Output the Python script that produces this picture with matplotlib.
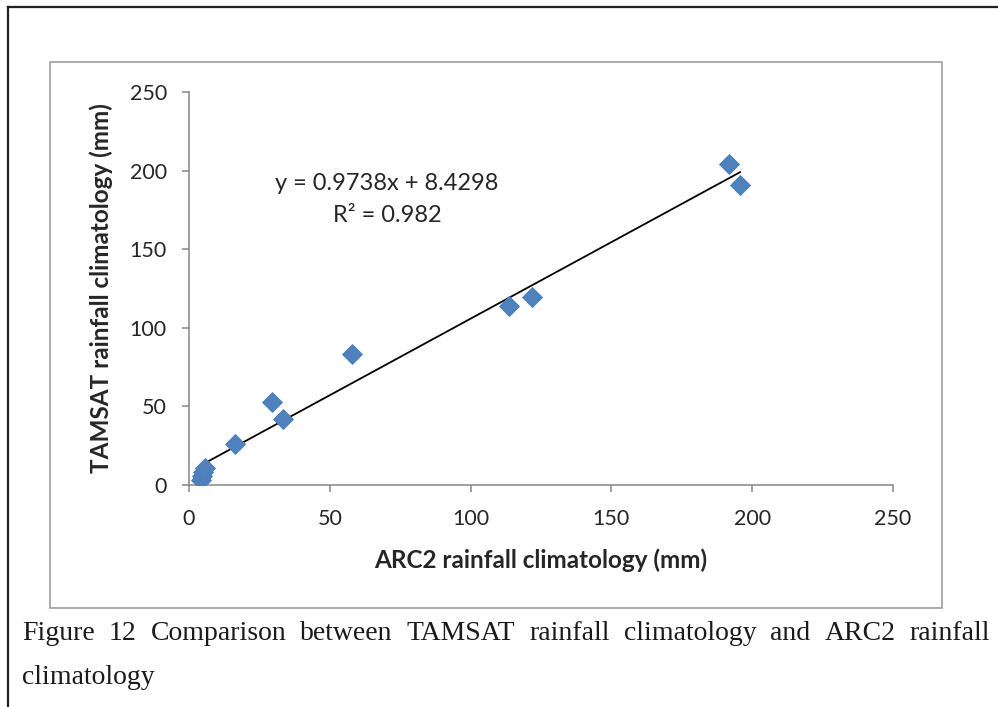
import numpy as np
import matplotlib
matplotlib.use('Agg')
import matplotlib.pyplot as plt
from matplotlib.patches import Rectangle
from matplotlib.lines import Line2D

# monthly rainfall climatology (mm)
arc2 = [4.1, 4.5, 5.0, 5.8, 16.3, 29.5, 33.4, 57.9, 113.6, 121.8, 191.8, 195.7]
tamsat = [3.2, 5.5, 8.0, 11.0, 26.0, 52.8, 42.0, 83.3, 113.9, 119.6, 204.2, 190.8]

slope, intercept, r2 = 0.9738, 8.4298, 0.982
ticks = [0, 50, 100, 150, 200, 250]

caption_line1 = "Figure 12 Comparison between TAMSAT rainfall climatology and ARC2 rainfall"
caption_line2 = "climatology"

W, H = 998, 707
fig = plt.figure(figsize=(W / 100, H / 100), dpi=100)

def fx(px):
    return px / W

def fy(py):
    return 1 - py / H

# outer page border (top and left only visible)
fig.add_artist(Line2D([fx(8), fx(8)], [fy(7), 0], color='#231F20', lw=1.6))
fig.add_artist(Line2D([fx(8), 1], [fy(7), fy(7)], color='#231F20', lw=1.6))

# chart frame
fig.add_artist(Rectangle((fx(50), fy(608)), fx(942) - fx(50), fy(62) - fy(608),
                         fill=False, edgecolor='#A5A5A5', lw=1.3))

ax = fig.add_axes([fx(189), fy(485), fx(893) - fx(189), fy(92) - fy(485)])
ax.patch.set_alpha(0)

xs = np.array([min(arc2), max(arc2)])
ax.plot(xs, slope * xs + intercept, color='black', lw=1.3, zorder=2)
ax.plot(arc2, tamsat, linestyle='none', marker='D', markersize=10.3,
        color='#4F81BD', markeredgecolor='#4A7EBB', markeredgewidth=0.6, zorder=3)

ax.set_xlim(0, 250)
ax.set_ylim(0, 250)
ax.set_xticks(ticks)
ax.set_yticks(ticks)

for s in ['top', 'right']:
    ax.spines[s].set_visible(False)
for s in ['left', 'bottom']:
    ax.spines[s].set_color('#868686')
    ax.spines[s].set_linewidth(1.1)
ax.tick_params(direction='out', length=5, width=1.1, color='#868686',
               labelsize=15.5, labelcolor='#262626')
ax.tick_params(axis='x', pad=12)
ax.tick_params(axis='y', pad=11)
for lab in ax.get_xticklabels() + ax.get_yticklabels():
    lab.set_family('Lato')

ax.set_xlabel('ARC2 rainfall climatology (mm)', fontsize=17.5, fontweight='bold',
              family='Lato', color='#262626', labelpad=14)
ax.set_ylabel('TAMSAT rainfall climatology (mm)', fontsize=17.5, fontweight='bold',
              family='Lato', color='#262626', labelpad=12)

ax.text(fx(387), fy(184), 'y = %.4fx + %.4f' % (slope, intercept), transform=fig.transFigure,
        ha='center', va='center', fontsize=17, family='Lato', color='#262626')
ax.text(fx(387), fy(216), 'R² = %.3f' % r2, transform=fig.transFigure,
        ha='center', va='center', fontsize=17, family='Lato', color='#262626')

# justified caption, first line
words = caption_line1.split()
txts = [fig.text(0, fy(633), w, fontsize=20, family='Liberation Serif',
                 color='#1a1a1a', va='center', ha='left') for w in words]
fig.canvas.draw()
r = fig.canvas.get_renderer()
widths = [t.get_window_extent(r).width for t in txts]
left, right = 22, 990
gap = (right - left - sum(widths)) / (len(words) - 1)
x = left
for t, w in zip(txts, widths):
    t.set_x(fx(x))
    x += w + gap
fig.text(fx(22), fy(678), caption_line2, fontsize=20, family='Liberation Serif',
         color='#1a1a1a', va='center', ha='left')

fig.savefig('out.png', dpi=100)
